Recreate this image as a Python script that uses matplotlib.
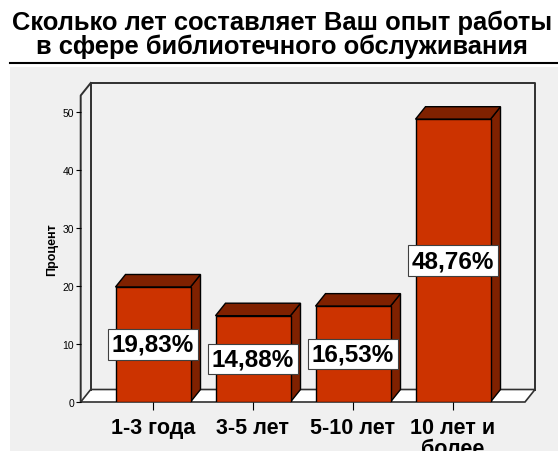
"""
Опыт работы в сфере библиотечного обслуживания - столбчатая диаграмма (псевдо-3D)
"""

import matplotlib
matplotlib.use('Agg')
import matplotlib.pyplot as plt
from matplotlib.patches import Rectangle, Polygon
from matplotlib.lines import Line2D

plt.rcParams['font.family'] = ['Liberation Sans', 'DejaVu Sans']

# ==========================================
# ДАННЫЕ
# ==========================================
categories = ['1-3 года', '3-5 лет', '5-10 лет', '10 лет и\nболее']
percents = [19.83, 14.88, 16.53, 48.76]
labels = ['19,83%', '14,88%', '16,53%', '48,76%']
yticks = [0, 10, 20, 30, 40, 50]

title = 'Сколько лет составляет Ваш опыт работы\nв сфере библиотечного обслуживания'

# ==========================================
# ФИГУРА
# ==========================================
W, H = 558, 452
fig = plt.figure(figsize=(W / 100, H / 100), dpi=100)
fig.patch.set_facecolor('white')

# серая подложка и линия под заголовком
fig.patches.append(Rectangle((10 / W, 0), 1 - 10 / W, (H - 68) / H,
                             transform=fig.transFigure, facecolor='#f0f0f0',
                             edgecolor='none', zorder=-5))
fig.lines.append(Line2D([10 / W, 1], [1 - 64 / H, 1 - 64 / H],
                        transform=fig.transFigure, color='black', lw=1.5,
                        zorder=-4))

fig.text(0.505, 1 - 35 / H, title, ha='center', va='center',
         fontsize=18.4, weight='bold', linespacing=0.95)

# оси: пиксели области графика
left_px, right_px, top_px, bottom_px = 80.7, 536, 84, 403
ax = fig.add_axes([left_px / W, (H - bottom_px) / H,
                   (right_px - left_px) / W, (bottom_px - top_px) / H])
ax.patch.set_alpha(0)
ax.set_zorder(2)

px_per_x = 100.0
px_per_y = 5.8
x0 = (left_px - 153) / px_per_x
x1 = x0 + (right_px - left_px) / px_per_x
ytop = (bottom_px - top_px) / px_per_y
ax.set_xlim(x0, x1)
ax.set_ylim(0, ytop)

# глубина 3D-эффекта в единицах данных
dx = 10 / px_per_x
dy = 12.5 / px_per_y
xr = x1 - 0.01  # правая задняя стенка
yf = ytop - dy  # верх передней оси

frame = '#303030'
# пол
ax.add_patch(Polygon([(x0, 0), (xr - dx, 0), (xr, dy), (x0 + dx, dy)],
                     closed=True, facecolor='white', edgecolor=frame,
                     lw=1.2, clip_on=False, zorder=1))
# стенки
ax.plot([x0 + dx, x0 + dx, xr, xr], [dy, ytop, ytop, dy],
        color=frame, lw=1.4, clip_on=False, zorder=1)
ax.plot([x0, x0, x0 + dx], [0, yf, ytop],
        color=frame, lw=1.4, clip_on=False, zorder=1)

# столбцы
bw = 0.75
front = '#cc3300'
dark = '#7f2100'
for i, v in enumerate(percents):
    xl, xrr = i - bw / 2, i + bw / 2
    ax.add_patch(Polygon([(xrr, 0), (xrr + dx, dy), (xrr + dx, v + dy), (xrr, v)],
                         closed=True, facecolor=dark, edgecolor='black',
                         lw=1, zorder=3, clip_on=False))
    ax.add_patch(Polygon([(xl, v), (xl + dx, v + dy), (xrr + dx, v + dy), (xrr, v)],
                         closed=True, facecolor=dark, edgecolor='black',
                         lw=1, zorder=3, clip_on=False))
    ax.add_patch(Rectangle((xl, 0), bw, v, facecolor=front, edgecolor='black',
                           lw=1, zorder=4))
    ax.text(i, v / 2, labels[i], ha='center', va='center', fontsize=17.5,
            weight='bold', zorder=5,
            bbox=dict(boxstyle='square,pad=0.15', facecolor='white',
                      edgecolor='#404040', lw=0.8))

for s in ax.spines.values():
    s.set_visible(False)

ax.set_yticks(yticks)
ax.set_yticklabels([str(t) for t in yticks])
ax.tick_params(axis='y', direction='out', length=3.6, width=0.8,
               labelsize=7.5, pad=1.2, colors='black')
ax.set_xticks(range(len(categories)))
ax.set_xticklabels(categories, fontsize=15.5, weight='bold', linespacing=1.0,
                   va='top')
ax.tick_params(axis='x', direction='out', length=5.5, width=0.8,
               pad=5.5, colors='black')

fig.text(52 / W, 1 - 250 / H, 'Процент', rotation=90, ha='center',
         va='center', fontsize=9, weight='bold')

plt.savefig('out.png', dpi=100)
plt.close()
